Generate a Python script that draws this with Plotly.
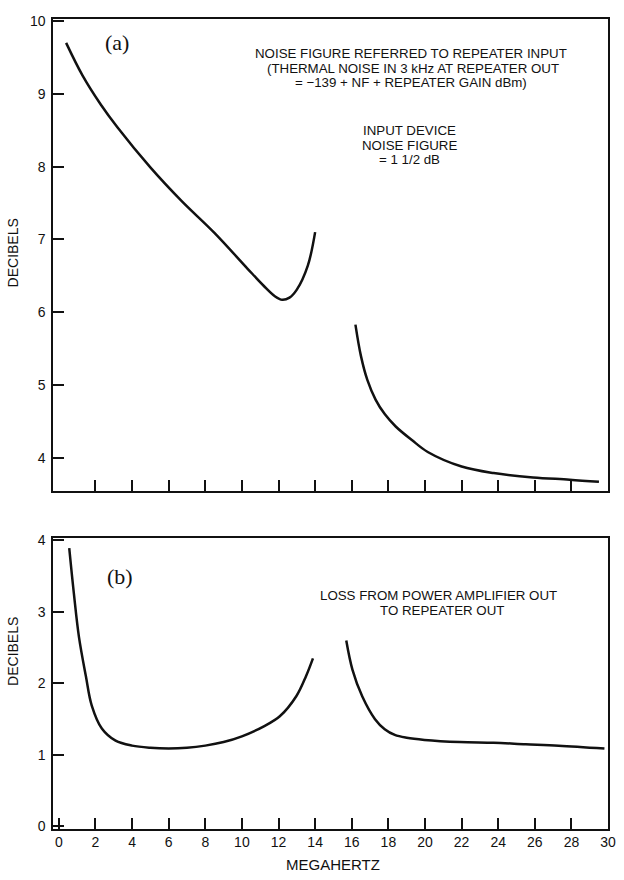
import plotly.graph_objects as go

# (a) Noise figure referred to repeater input, two frequency bands
nf_low_mhz = [0.4, 1.3, 2.3, 3.2, 5.0, 6.7, 8.5, 10.3, 11.2, 11.8, 12.2, 12.6, 13.0, 13.6, 14.0]
nf_low_db = [9.70, 9.25, 8.85, 8.54, 7.99, 7.53, 7.09, 6.60, 6.36, 6.22, 6.17, 6.20, 6.31, 6.64, 7.10]
nf_high_mhz = [16.2, 16.5, 16.85, 17.3, 17.8, 18.4, 19.3, 20.15, 22.0, 23.75, 25.9, 27.9, 29.5]
nf_high_db = [5.83, 5.40, 5.07, 4.80, 4.60, 4.43, 4.24, 4.08, 3.88, 3.79, 3.73, 3.70, 3.67]

# (b) Loss from power amplifier out to repeater out
loss_low_mhz = [0.57, 0.83, 1.1, 1.48, 1.8, 2.35, 3.1, 4.0, 5.0, 6.0, 7.0, 8.0, 9.0, 10.0, 11.2,
                12.07, 12.97, 13.5, 13.88]
loss_low_db = [3.89, 3.24, 2.65, 2.10, 1.69, 1.37, 1.20, 1.13, 1.10, 1.09, 1.10, 1.13, 1.18, 1.26, 1.40,
               1.54, 1.82, 2.10, 2.35]
loss_high_mhz = [15.7, 16.04, 16.57, 17.27, 17.8, 18.35, 19.0, 19.97, 21.9, 23.75, 25.5, 27.3, 29.8]
loss_high_db = [2.60, 2.19, 1.82, 1.50, 1.36, 1.28, 1.24, 1.21, 1.18, 1.17, 1.15, 1.13, 1.09]

# Axis ticks
mhz_ticks = list(range(0, 31, 2))
nf_ticks = [4, 5, 6, 7, 8, 9, 10]
loss_ticks = [0, 1, 2, 3, 4]

W, H = 624, 880
INK = "#111111"
SANS = "Liberation Sans, Arial, sans-serif"
SERIF = "Liberation Serif, Times New Roman, serif"


def px(x):
    return x / W


def py(y):
    return 1 - y / H


fig = go.Figure()
curve = dict(color=INK, width=2.5, shape="spline", smoothing=1.0)
for xs, ys, ax in [
    (nf_low_mhz, nf_low_db, ("x", "y")),
    (nf_high_mhz, nf_high_db, ("x", "y")),
    (loss_low_mhz, loss_low_db, ("x2", "y2")),
    (loss_high_mhz, loss_high_db, ("x2", "y2")),
]:
    fig.add_trace(go.Scatter(x=xs, y=ys, mode="lines", line=curve,
                             xaxis=ax[0], yaxis=ax[1], showlegend=False,
                             hoverinfo="skip"))

x_dom = [px(54), px(616)]
axis_common = dict(showline=True, linecolor=INK, linewidth=2, mirror=True,
                   ticks="inside", ticklen=11, tickwidth=1.6, tickcolor=INK,
                   showgrid=False, zeroline=False,
                   tickfont=dict(family=SANS, size=14, color=INK))

fig.update_layout(
    width=W, height=H,
    margin=dict(l=0, r=0, t=0, b=0),
    paper_bgcolor="white", plot_bgcolor="white",
    xaxis=dict(domain=x_dom, range=[-0.3, 30.0], anchor="y",
               tickvals=mhz_ticks[1:-1], showticklabels=False, **axis_common),
    yaxis=dict(domain=[py(492), py(13)], range=[3.54, 10.03], anchor="x",
               tickvals=nf_ticks, ticklabelstandoff=3, **axis_common),
    xaxis2=dict(domain=x_dom, range=[-0.3, 30.0], anchor="y2",
                tickvals=mhz_ticks, ticklabelstandoff=0, **axis_common),
    yaxis2=dict(domain=[py(834), py(539.5)], range=[-0.03, 4.03], anchor="x2",
                tickvals=loss_ticks, ticklabelstandoff=3, **axis_common),
)


def label(text, x, y, size=12, family=SANS, angle=0):
    fig.add_annotation(text=text, x=px(x), y=py(y), xref="paper", yref="paper",
                       showarrow=False, xanchor="center", yanchor="middle",
                       textangle=angle,
                       font=dict(family=family, size=size, color=INK))


NOTE = 13.3
label("(a)", 119, 37, size=22, family=SERIF)
label("NOISE FIGURE REFERRED TO REPEATER INPUT", 416, 48, size=NOTE)
label("(THERMAL NOISE IN 3 kHz AT REPEATER OUT", 418, 63, size=NOTE)
label("= \u2212139 + NF + REPEATER GAIN dBm)", 416, 78, size=NOTE)
label("INPUT DEVICE", 415, 126, size=NOTE)
label("NOISE FIGURE", 415, 141, size=NOTE)
label("= 1 1/2 dB", 415, 156, size=NOTE)

label("(b)", 122, 578, size=22, family=SERIF)
label("LOSS FROM POWER AMPLIFIER OUT", 444, 598, size=NOTE)
label("TO REPEATER OUT", 448, 613, size=NOTE)

label("DECIBELS", 13, 250, size=14, angle=-90)
label("DECIBELS", 13, 654, size=14, angle=-90)
label("MEGAHERTZ", 337, 870, size=15)

fig.write_html("out.html")
